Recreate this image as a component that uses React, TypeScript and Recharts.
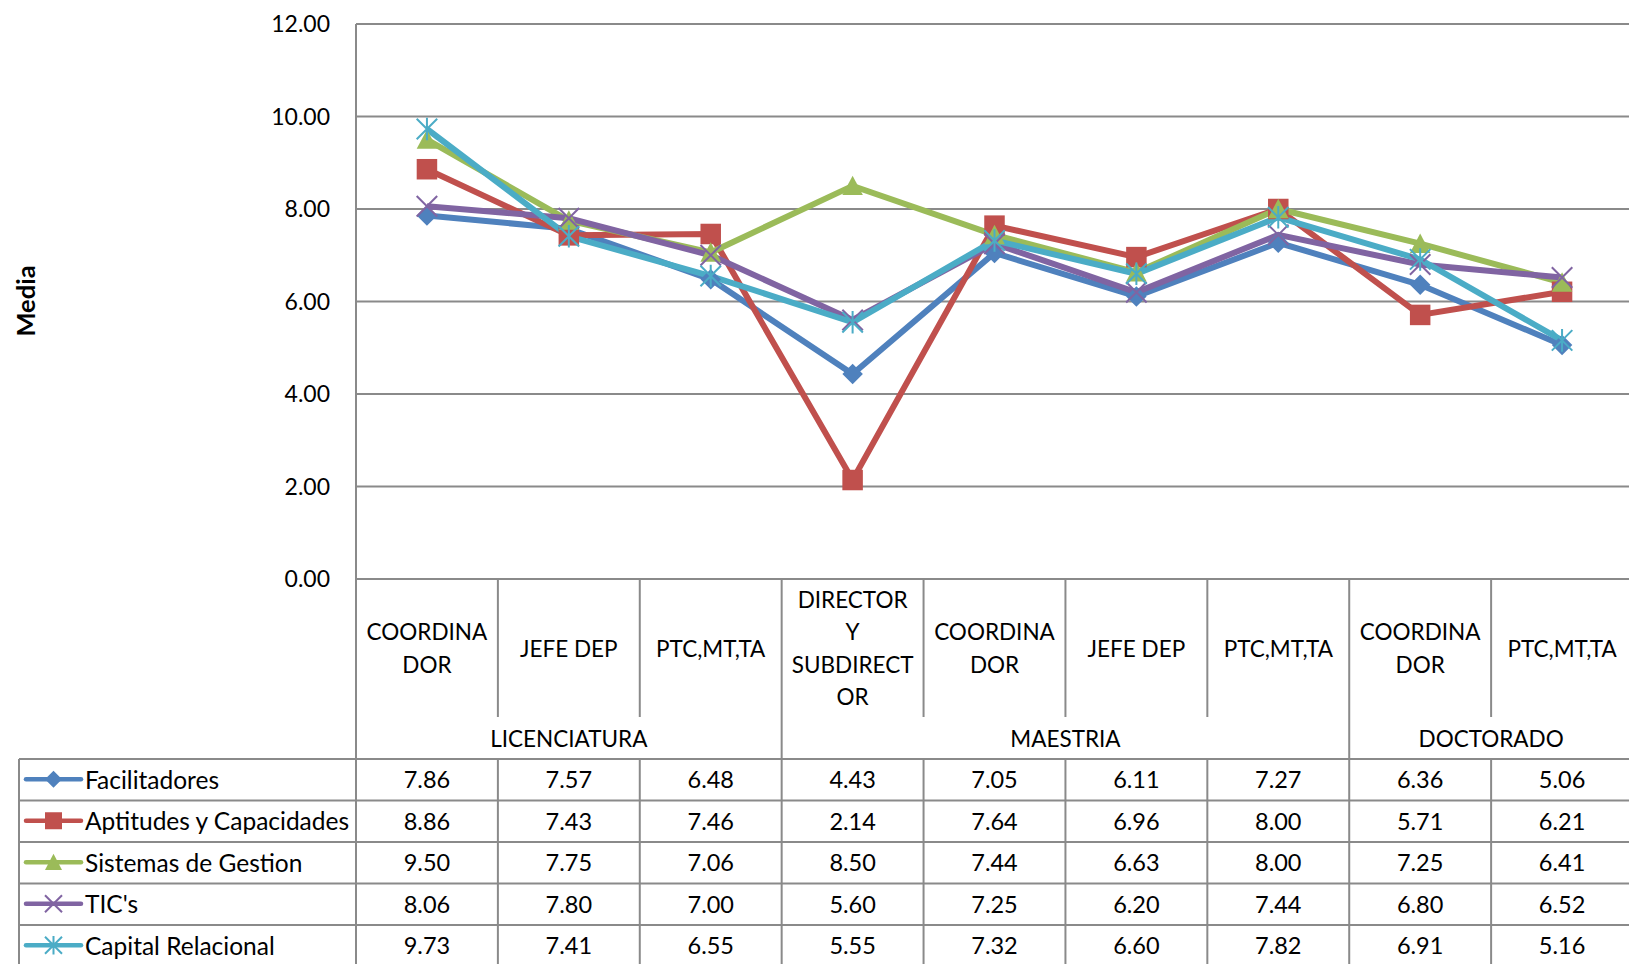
import React from 'react';
import { LineChart, Line, XAxis, YAxis, CartesianGrid } from 'recharts';

// category labels (wrapped as in the source chart)
const catLines = [
  ['COORDINA', 'DOR'],
  ['JEFE DEP'],
  ['PTC,MT,TA'],
  ['DIRECTOR', 'Y', 'SUBDIRECT', 'OR'],
  ['COORDINA', 'DOR'],
  ['JEFE DEP'],
  ['PTC,MT,TA'],
  ['COORDINA', 'DOR'],
  ['PTC,MT,TA'],
];
const niveles = ['LICENCIATURA', 'MAESTRIA', 'DOCTORADO'];
const nivelSpan = [3, 4, 2];

const facilitadores = [7.86, 7.57, 6.48, 4.43, 7.05, 6.11, 7.27, 6.36, 5.06];
const aptitudes = [8.86, 7.43, 7.46, 2.14, 7.64, 6.96, 8.0, 5.71, 6.21];
const sistemas = [9.5, 7.75, 7.06, 8.5, 7.44, 6.63, 8.0, 7.25, 6.41];
const tics = [8.06, 7.8, 7.0, 5.6, 7.25, 6.2, 7.44, 6.8, 6.52];
const capital = [9.73, 7.41, 6.55, 5.55, 7.32, 6.6, 7.82, 6.91, 5.16];

const yTicks = [0, 2, 4, 6, 8, 10, 12];

const SERIES = [
  { key: 'fac', name: 'Facilitadores', values: facilitadores, color: '#4F81BD', shape: 'diamond' },
  { key: 'apt', name: 'Aptitudes y Capacidades', values: aptitudes, color: '#C0504D', shape: 'square' },
  { key: 'sis', name: 'Sistemas de Gestion', values: sistemas, color: '#9BBB59', shape: 'triangle' },
  { key: 'tic', name: "TIC's", values: tics, color: '#8064A2', shape: 'x' },
  { key: 'cap', name: 'Capital Relacional', values: capital, color: '#4BACC6', shape: 'star' },
];

const data = catLines.map((_, i) => {
  const row: Record<string, number> = { idx: i };
  SERIES.forEach(s => { row[s.key] = s.values[i]; });
  return row;
});

// layout
const PLOT_LEFT = 356;
const PLOT_RIGHT = 1633;
const PLOT_BOTTOM = 579;
const COL = (PLOT_RIGHT - PLOT_LEFT) / catLines.length;
const LABEL_BOTTOM = 717;
const ROWS_TOP = 759;
const ROW_H = 41.5;
const TABLE_LEFT = 19;
const GRID = '#8a8a8a';
const LABEL_FONT = 22.5;
const VALUE_FONT = 23.5;
const NAME_FONT = 24.5;

function Marker({ shape, cx, cy, color, size }: { shape: string; cx: number; cy: number; color: string; size: number }) {
  const h = size / 2;
  switch (shape) {
    case 'diamond':
      return <polygon points={`${cx},${cy - h} ${cx + h},${cy} ${cx},${cy + h} ${cx - h},${cy}`} fill={color} />;
    case 'square':
      return <rect x={cx - h} y={cy - h} width={size} height={size} fill={color} />;
    case 'triangle':
      return <polygon points={`${cx},${cy - h} ${cx + h},${cy + h * 0.9} ${cx - h},${cy + h * 0.9}`} fill={color} />;
    case 'x':
      return (
        <path d={`M${cx - h},${cy - h}L${cx + h},${cy + h}M${cx - h},${cy + h}L${cx + h},${cy - h}`} stroke={color} strokeWidth={2} fill="none" />
      );
    default:
      return (
        <path
          d={`M${cx - h},${cy - h}L${cx + h},${cy + h}M${cx - h},${cy + h}L${cx + h},${cy - h}M${cx},${cy - h * 1.1}L${cx},${cy + h * 1.1}`}
          stroke={color}
          strokeWidth={2}
          fill="none"
        />
      );
  }
}

const makeDot = (shape: string, color: string) => (p: any) => {
  if (p.cx == null || p.cy == null) return <g key={p.index} />;
  return (
    <g key={`d-${shape}-${p.index}`}>
      <Marker shape={shape} cx={p.cx} cy={p.cy} color={color} size={20.5} />
    </g>
  );
};

// draws the category labels and data table under the plot
function TableTick(props: any) {
  const { x, payload } = props;
  const i = Number(payload.value);
  const lines = catLines[i];
  const bottom = 1000;
  const lineGap = 32.5;
  const midY = 648;

  // group boundaries
  let acc = 0;
  const groupEnds: number[] = [];
  const groupStarts: number[] = [];
  nivelSpan.forEach(n => { groupStarts.push(acc); acc += n; groupEnds.push(acc - 1); });
  const isGroupEnd = groupEnds.includes(i);
  const gIdx = groupStarts.indexOf(i);

  const right = x + COL / 2;

  return (
    <g>
      {lines.map((t, k) => (
        <text
          key={k}
          x={x}
          y={midY + (k - (lines.length - 1) / 2) * lineGap}
          textAnchor="middle"
          dominantBaseline="central"
          fontSize={LABEL_FONT}
          fill="#000"
        >
          {t}
        </text>
      ))}
      {isGroupEnd ? (
        <line x1={right} x2={right} y1={PLOT_BOTTOM} y2={bottom} stroke={GRID} strokeWidth={2} />
      ) : (
        <>
          <line x1={right} x2={right} y1={PLOT_BOTTOM} y2={LABEL_BOTTOM} stroke={GRID} strokeWidth={2} />
          <line x1={right} x2={right} y1={ROWS_TOP} y2={bottom} stroke={GRID} strokeWidth={2} />
        </>
      )}
      {gIdx >= 0 && (
        <text
          x={x + ((nivelSpan[gIdx] - 1) * COL) / 2}
          y={738}
          textAnchor="middle"
          dominantBaseline="central"
          fontSize={LABEL_FONT}
          fill="#000"
        >
          {niveles[gIdx]}
        </text>
      )}
      {SERIES.map((s, r) => (
        <text
          key={s.key}
          x={x}
          y={ROWS_TOP + ROW_H * (r + 0.5) - 0.5}
          textAnchor="middle"
          dominantBaseline="central"
          fontSize={VALUE_FONT}
          fill="#000"
        >
          {s.values[i].toFixed(2)}
        </text>
      ))}
      {i === 0 && (
        <g>
          <line x1={x - COL / 2} x2={x - COL / 2} y1={PLOT_BOTTOM} y2={bottom} stroke={GRID} strokeWidth={2} />
          <line x1={TABLE_LEFT} x2={TABLE_LEFT} y1={ROWS_TOP} y2={bottom} stroke={GRID} strokeWidth={2} />
          {[0, 1, 2, 3, 4, 5].map(r => (
            <line
              key={r}
              x1={TABLE_LEFT}
              x2={1640}
              y1={ROWS_TOP + ROW_H * r}
              y2={ROWS_TOP + ROW_H * r}
              stroke={GRID}
              strokeWidth={2}
            />
          ))}
          {SERIES.map((s, r) => {
            const cy = ROWS_TOP + ROW_H * (r + 0.5) - 0.5;
            return (
              <g key={s.key}>
                <line x1={26} x2={81} y1={cy} y2={cy} stroke={s.color} strokeWidth={4.5} strokeLinecap="round" />
                <Marker shape={s.shape} cx={53.5} cy={cy} color={s.color} size={17} />
                <text x={85} y={cy} dominantBaseline="central" fontSize={NAME_FONT} fill="#000">
                  {s.name}
                </text>
              </g>
            );
          })}
          <text
            x={25}
            y={301}
            transform="rotate(-90 25 301)"
            textAnchor="middle"
            dominantBaseline="central"
            fontSize={25.5}
            fontWeight="bold"
            fill="#000"
          >
            Media
          </text>
        </g>
      )}
    </g>
  );
}

export default function App() {
  return (
    <div
      style={{
        position: 'absolute',
        left: 0,
        top: 0,
        width: 1629,
        height: 964,
        overflow: 'hidden',
        background: '#fff',
        fontFamily: 'Lato, sans-serif',
      }}
    >
      <LineChart width={1640} height={1000} data={data} margin={{ top: 24, right: 7, left: 0, bottom: 0 }}>
        <CartesianGrid vertical={false} stroke={GRID} strokeWidth={2} />
        <XAxis
          dataKey="idx"
          type="category"
          interval={0}
          tickLine={false}
          tickSize={0}
          tickMargin={0}
          height={421}
          padding={{ left: COL / 2, right: COL / 2 }}
          axisLine={{ stroke: GRID, strokeWidth: 2 }}
          tick={<TableTick />}
        />
        <YAxis
          width={356}
          domain={[0, 12]}
          ticks={yTicks}
          tickFormatter={(v: number) => v.toFixed(2)}
          tickLine={false}
          tickSize={0}
          tickMargin={26}
          axisLine={{ stroke: GRID, strokeWidth: 2 }}
          tick={{ fill: '#000', fontSize: 23 }}
        />
        {SERIES.map(s => (
          <Line
            key={s.key}
            type="linear"
            dataKey={s.key}
            name={s.name}
            stroke={s.color}
            strokeWidth={6}
            dot={makeDot(s.shape, s.color)}
            activeDot={false}
            isAnimationActive={false}
          />
        ))}
      </LineChart>
    </div>
  );
}
